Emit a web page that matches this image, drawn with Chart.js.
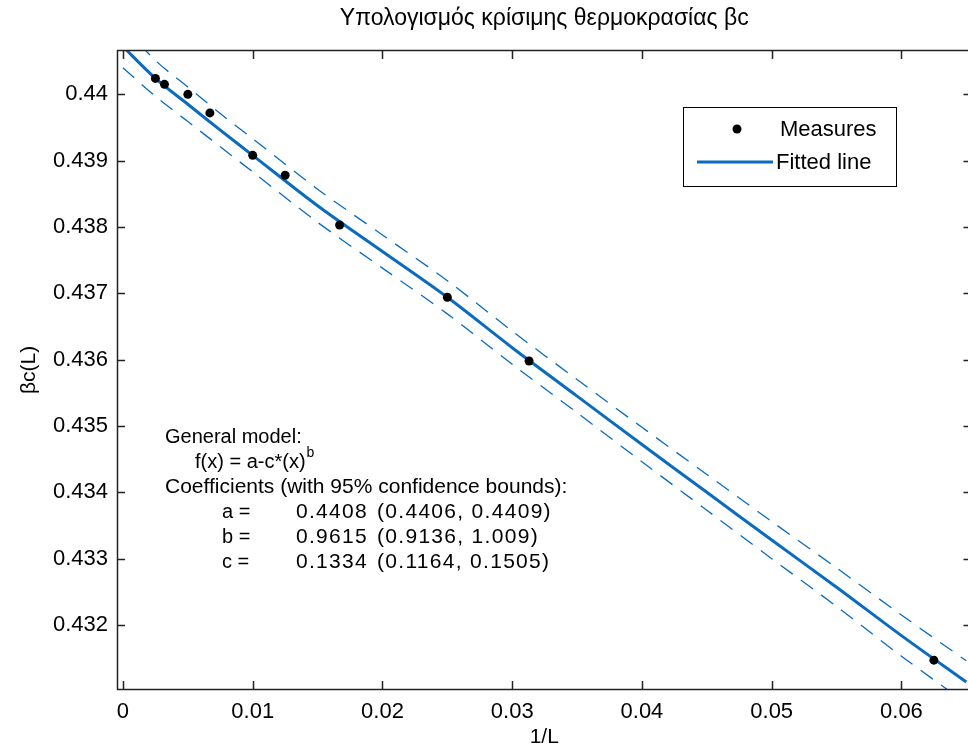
<!DOCTYPE html>
<html>
<head>
<meta charset="utf-8">
<script src="https://cdn.jsdelivr.net/npm/chart.js@4.4.1/dist/chart.umd.min.js"></script>
<style>
  html, body { margin: 0; padding: 0; background: #fff; overflow: hidden; }
  canvas { display: block; }
</style>
</head>
<body>
<canvas id="fitChart" width="976" height="754"></canvas>
<script>
// measured points (1/L, beta_c(L))
const invL = [0.0025, 0.0032, 0.005, 0.0067, 0.01, 0.0125, 0.0167, 0.025, 0.0313, 0.0625];
const betaC = [0.44024, 0.44015, 0.44000, 0.43972, 0.43908, 0.43878, 0.43803, 0.43694, 0.43598, 0.43147];

// fitted curve and 95% bounds
const fitX = [0, 0.0025, 0.005, 0.0075, 0.01, 0.015, 0.02, 0.025, 0.03, 0.035, 0.04, 0.045, 0.05, 0.055, 0.06, 0.065];
const fitY = [0.44072, 0.44024, 0.43985, 0.43946, 0.43908, 0.43832, 0.43763, 0.43694, 0.43618, 0.43545, 0.43472, 0.43400, 0.43328, 0.43257, 0.43184, 0.43114];
const upperY = [0.44104, 0.44051, 0.44011, 0.43971, 0.43933, 0.43857, 0.43788, 0.43719, 0.43643, 0.43570, 0.43498, 0.43427, 0.43356, 0.43286, 0.43215, 0.43146];
const lowerY = [0.44040, 0.43997, 0.43959, 0.43921, 0.43883, 0.43807, 0.43738, 0.43669, 0.43593, 0.43520, 0.43446, 0.43373, 0.43300, 0.43228, 0.43153, 0.43082];

const xTicks = [0, 0.01, 0.02, 0.03, 0.04, 0.05, 0.06];
const xTickLabels = ['0', '0.01', '0.02', '0.03', '0.04', '0.05', '0.06'];
const yTicks = [0.432, 0.433, 0.434, 0.435, 0.436, 0.437, 0.438, 0.439, 0.44];
const yTickLabels = ['0.432', '0.433', '0.434', '0.435', '0.436', '0.437', '0.438', '0.439', '0.44'];

const blue = '#0b6cbf';
const FONT = "'Liberation Sans', Arial, sans-serif";
Chart.defaults.font.family = FONT;
Chart.defaults.color = '#000';

const pts = (xs, ys) => xs.map((v, i) => ({ x: v, y: ys[i] }));

const frameAndText = {
  id: 'frameAndText',
  afterDatasetsDraw(chart) {
    const { ctx, chartArea: a, scales: { x, y } } = chart;
    ctx.save();
    ctx.strokeStyle = '#222';
    ctx.lineWidth = 1.5;
    ctx.strokeRect(a.left + 0.5, a.top + 0.5, a.right - a.left - 1, a.bottom - a.top - 1);
    ctx.beginPath();
    xTicks.forEach(v => {
      const px = Math.round(x.getPixelForValue(v)) + 0.5;
      ctx.moveTo(px, a.bottom); ctx.lineTo(px, a.bottom - 9);
      ctx.moveTo(px, a.top); ctx.lineTo(px, a.top + 9);
    });
    yTicks.forEach(v => {
      const py = Math.round(y.getPixelForValue(v)) + 0.5;
      ctx.moveTo(a.left, py); ctx.lineTo(a.left + 8, py);
      ctx.moveTo(a.right, py); ctx.lineTo(a.right - 8, py);
    });
    ctx.stroke();

    // legend box
    ctx.fillStyle = '#fff';
    ctx.fillRect(683, 107, 214, 80);
    ctx.lineWidth = 1;
    ctx.strokeStyle = '#000';
    ctx.strokeRect(683.5, 107.5, 213, 79);
    ctx.fillStyle = '#000';
    ctx.beginPath();
    ctx.arc(737, 129, 4.5, 0, Math.PI * 2);
    ctx.fill();
    ctx.strokeStyle = blue;
    ctx.lineWidth = 3;
    ctx.beginPath();
    ctx.moveTo(697, 162); ctx.lineTo(773, 162);
    ctx.stroke();
    ctx.font = '22px ' + FONT;
    ctx.textBaseline = 'middle';
    ctx.textAlign = 'left';
    ctx.fillText('Measures', 780, 130);
    ctx.fillText('Fitted line', 776, 163);

    // fit report
    ctx.font = '20px ' + FONT;
    ctx.fillText('General model:', 165, 437);
    const fx = 'f(x) = a-c*(x)';
    ctx.fillText(fx, 195, 462);
    const w = ctx.measureText(fx).width;
    ctx.font = '14px ' + FONT;
    ctx.fillText('b', 195 + w + 1, 453);
    ctx.font = '21px ' + FONT;
    ctx.fillText('Coefficients (with 95% confidence bounds):', 165, 487);
    [['a =', '0.4408', '(0.4406, 0.4409)'],
     ['b =', '0.9615', '(0.9136, 1.009)'],
     ['c =', '0.1334', '(0.1164, 0.1505)']].forEach((r, i) => {
      const ty = 512 + i * 25;
      ctx.font = '20px ' + FONT;
      ctx.letterSpacing = '0px';
      ctx.fillText(r[0], 222, ty);
      ctx.font = '21px ' + FONT;
      ctx.letterSpacing = '1.3px';
      ctx.fillText(r[1], 296, ty);
      ctx.fillText(r[2], 377, ty);
    });
    ctx.letterSpacing = '0px';
    ctx.restore();
  }
};

new Chart(document.getElementById('fitChart').getContext('2d'), {
  type: 'scatter',
  data: {
    datasets: [{
      label: 'Measures',
      data: pts(invL, betaC),
      showLine: false,
      pointRadius: 4.5,
      pointBackgroundColor: '#000',
      pointBorderWidth: 0,
      order: 0
    }, {
      label: 'Fitted line',
      data: pts(fitX, fitY),
      showLine: true,
      borderColor: blue,
      borderWidth: 3,
      pointRadius: 0,
      tension: 0.3,
      clip: 0,
      order: 1
    }, {
      label: 'upper bound',
      data: pts(fitX, upperY),
      showLine: true,
      borderColor: blue,
      borderWidth: 1.3,
      borderDash: [15, 10],
      pointRadius: 0,
      tension: 0.3,
      clip: 0,
      order: 2
    }, {
      label: 'lower bound',
      data: pts(fitX, lowerY),
      showLine: true,
      borderColor: blue,
      borderWidth: 1.3,
      borderDash: [15, 10],
      pointRadius: 0,
      tension: 0.3,
      clip: 0,
      order: 2
    }]
  },
  options: {
    responsive: false,
    animation: false,
    layout: { padding: { top: 0, right: 1, left: 0, bottom: 0 } },
    plugins: {
      legend: { display: false },
      tooltip: { enabled: false },
      title: {
        display: true,
        fullSize: false,
        text: 'Υπολογισμός κρίσιμης θερμοκρασίας βc',
        color: '#000',
        font: { size: 23, weight: 'normal' },
        padding: { top: 5, bottom: 17.4 }
      }
    },
    scales: {
      x: {
        type: 'linear',
        min: -0.00046,
        max: 0.0654,
        grid: { display: false, drawTicks: false },
        border: { display: false },
        afterBuildTicks: s => { s.ticks = xTicks.map(v => ({ value: v })); },
        ticks: { callback: (v, i) => xTickLabels[i], padding: 9, maxRotation: 0, autoSkip: false, font: { size: 22 } },
        title: { display: true, text: '1/L', font: { size: 21 }, padding: { top: 0, bottom: 4 } },
        afterFit: s => { s.height = 64; }
      },
      y: {
        type: 'linear',
        min: 0.43102,
        max: 0.440668,
        grid: { display: false, drawTicks: false },
        border: { display: false },
        afterBuildTicks: s => { s.ticks = yTicks.map(v => ({ value: v })); },
        ticks: { callback: (v, i) => yTickLabels[i], padding: 9, autoSkip: false, font: { size: 22 } },
        title: { display: true, text: 'βc(L)', font: { size: 21 }, padding: { top: 17, bottom: 0 } },
        afterFit: s => { s.width = 117; }
      }
    }
  },
  plugins: [frameAndText]
});
</script>
</body>
</html>
